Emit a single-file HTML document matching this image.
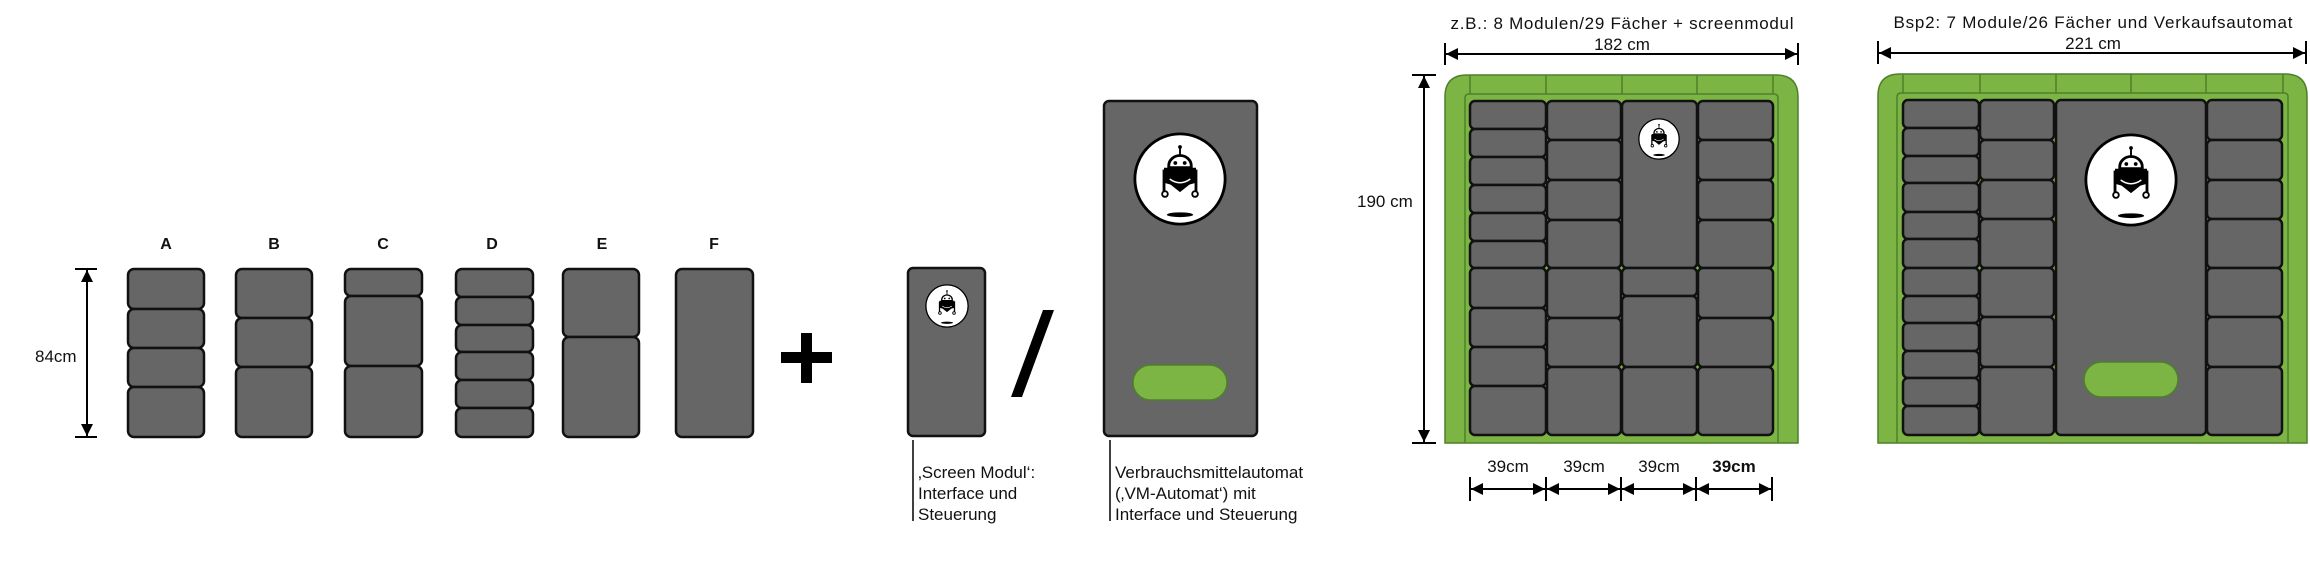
<!DOCTYPE html>
<html><head><meta charset="utf-8"><style>
html,body{margin:0;padding:0;background:#fff;}
svg{display:block;}
text{font-family:"Liberation Sans",sans-serif;fill:#111;}
.c{fill:#666;stroke:#111;stroke-width:2.5;}
.g{fill:#7db544;stroke:#4f7f2c;stroke-width:1.5;}
.gl{stroke:#4f7f2c;stroke-width:1.5;fill:none;}
.ln{stroke:#000;stroke-width:2;fill:none;}
</style></head><body>
<svg width="2310" height="569" viewBox="0 0 2310 569" xmlns="http://www.w3.org/2000/svg">
<defs>
<marker id="ar" viewBox="0 0 10 10" refX="10" refY="5" markerWidth="6" markerHeight="6" orient="auto-start-reverse"><path d="M0,0 L10,5 L0,10 Z" fill="#000"/></marker>
<symbol id="rb" viewBox="-50 -50 100 100">
<circle cx="0" cy="0" r="48" fill="#fff" stroke="#000" stroke-width="3"/>
<line x1="0" y1="-33" x2="0" y2="-25" stroke="#000" stroke-width="2"/>
<circle cx="0" cy="-34" r="2" fill="#000"/>
<path d="M-12,-12 V-14 A12,11 0 0 1 12,-14 V-12 Z" fill="#fff" stroke="#000" stroke-width="3"/>
<circle cx="-5" cy="-17" r="2" fill="#000"/><circle cx="5" cy="-17" r="2" fill="#000"/>
<path d="M-17,-12 H17 V4 L10,6 L0,14 L-10,6 L-17,4 Z" fill="#000"/>
<path d="M-11,0 Q0,8 11,0" stroke="#fff" stroke-width="1.5" fill="none"/>
<line x1="-17" y1="-10" x2="-17" y2="13" stroke="#000" stroke-width="3"/>
<line x1="17" y1="-10" x2="17" y2="13" stroke="#000" stroke-width="3"/>
<circle cx="-16" cy="16" r="3" fill="#fff" stroke="#000" stroke-width="2"/>
<circle cx="16" cy="16" r="3" fill="#fff" stroke="#000" stroke-width="2"/>
<ellipse cx="0" cy="38" rx="14" ry="2.5" fill="#000"/>
</symbol>
</defs>

<!-- left modules -->
<g font-weight="bold" font-size="16" text-anchor="middle">
<text x="166" y="249">A</text><text x="274" y="249">B</text><text x="383" y="249">C</text>
<text x="492" y="249">D</text><text x="602" y="249">E</text><text x="714" y="249">F</text>
</g>
<line x1="75" y1="269" x2="97" y2="269" class="ln"/><line x1="75" y1="437" x2="97" y2="437" class="ln"/>
<line x1="87" y1="270" x2="87" y2="436" class="ln" marker-start="url(#ar)" marker-end="url(#ar)"/>
<text x="35" y="362" font-size="17">84cm</text>
<g>
<rect class="c" x="128" y="269" width="76" height="40" rx="6"/><rect class="c" x="128" y="309" width="76" height="39" rx="6"/><rect class="c" x="128" y="348" width="76" height="39" rx="6"/><rect class="c" x="128" y="387" width="76" height="50" rx="6"/>
<rect class="c" x="236" y="269" width="76" height="49" rx="6"/><rect class="c" x="236" y="318" width="76" height="49" rx="6"/><rect class="c" x="236" y="367" width="76" height="70" rx="6"/>
<rect class="c" x="345" y="269" width="77" height="27" rx="6"/><rect class="c" x="345" y="296" width="77" height="70" rx="6"/><rect class="c" x="345" y="366" width="77" height="71" rx="6"/>
<rect class="c" x="456" y="269" width="77" height="28" rx="6"/><rect class="c" x="456" y="297" width="77" height="28" rx="6"/><rect class="c" x="456" y="325" width="77" height="27" rx="6"/><rect class="c" x="456" y="352" width="77" height="28" rx="6"/><rect class="c" x="456" y="380" width="77" height="28" rx="6"/><rect class="c" x="456" y="408" width="77" height="29" rx="6"/>
<rect class="c" x="563" y="269" width="76" height="68" rx="6"/><rect class="c" x="563" y="337" width="76" height="100" rx="6"/>
<rect class="c" x="676" y="269" width="77" height="168" rx="6"/>
</g>
<rect x="801" y="333" width="11" height="50" fill="#000"/><rect x="781" y="352" width="51" height="11" fill="#000"/>

<!-- screen modul -->
<rect class="c" x="908" y="268" width="77" height="168" rx="5"/>
<use href="#rb" x="925" y="284" width="44" height="44"/>
<polygon points="1043,310 1054,310 1022,397 1011,397" fill="#000"/>
<!-- VM -->
<rect class="c" x="1104" y="101" width="153" height="335" rx="5"/>
<use href="#rb" x="1133" y="132" width="94" height="94"/>
<rect x="1133" y="365" width="94" height="35" rx="17.5" fill="#7db544" stroke="#4f7f2c" stroke-width="1.5"/>
<line x1="913" y1="440" x2="913" y2="521" stroke="#000" stroke-width="1.5"/>
<g font-size="17">
<text x="918" y="478">‚Screen Modul‘:</text><text x="918" y="499">Interface und</text><text x="918" y="520">Steuerung</text>
</g>
<line x1="1110" y1="440" x2="1110" y2="521" stroke="#000" stroke-width="1.5"/>
<g font-size="17">
<text x="1115" y="478">Verbrauchsmittelautomat</text><text x="1115" y="499">(‚VM-Automat‘) mit</text><text x="1115" y="520">Interface und Steuerung</text>
</g>

<!-- Frame 1 -->
<text x="1622" y="29" font-size="17" text-anchor="middle" textLength="343">z.B.: 8 Modulen/29 Fächer + screenmodul</text>
<text x="1622" y="50" font-size="17" text-anchor="middle">182 cm</text>
<line x1="1445" y1="43" x2="1445" y2="65" class="ln"/><line x1="1798" y1="43" x2="1798" y2="65" class="ln"/>
<line x1="1446" y1="54" x2="1797" y2="54" class="ln" marker-start="url(#ar)" marker-end="url(#ar)"/>
<path class="g" d="M1445,443 V97 Q1445,75 1467,75 H1776 Q1798,75 1798,97 V443 Z"/>
<path class="gl" d="M1465,443 V98 Q1465,94 1469,94 H1774 Q1778,94 1778,98 V443"/>
<g class="gl"><line x1="1470" y1="75" x2="1470" y2="94"/><line x1="1546" y1="75" x2="1546" y2="94"/><line x1="1622" y1="75" x2="1622" y2="94"/><line x1="1697" y1="75" x2="1697" y2="94"/><line x1="1773" y1="75" x2="1773" y2="94"/></g>
<g>
<rect class="c" x="1470" y="101" width="76" height="28" rx="5"/><rect class="c" x="1470" y="129" width="76" height="28" rx="5"/><rect class="c" x="1470" y="157" width="76" height="28" rx="5"/><rect class="c" x="1470" y="185" width="76" height="28" rx="5"/><rect class="c" x="1470" y="213" width="76" height="28" rx="5"/><rect class="c" x="1470" y="241" width="76" height="27" rx="5"/><rect class="c" x="1470" y="268" width="76" height="40" rx="5"/><rect class="c" x="1470" y="308" width="76" height="39" rx="5"/><rect class="c" x="1470" y="347" width="76" height="39" rx="5"/><rect class="c" x="1470" y="386" width="76" height="49" rx="5"/>
<rect class="c" x="1547" y="101" width="74" height="39" rx="5"/><rect class="c" x="1547" y="140" width="74" height="40" rx="5"/><rect class="c" x="1547" y="180" width="74" height="40" rx="5"/><rect class="c" x="1547" y="220" width="74" height="48" rx="5"/><rect class="c" x="1547" y="268" width="74" height="50" rx="5"/><rect class="c" x="1547" y="318" width="74" height="49" rx="5"/><rect class="c" x="1547" y="367" width="74" height="68" rx="5"/>
<rect class="c" x="1622" y="101" width="75" height="167" rx="5"/><rect class="c" x="1622" y="268" width="75" height="28" rx="5"/><rect class="c" x="1622" y="296" width="75" height="71" rx="5"/><rect class="c" x="1622" y="367" width="75" height="68" rx="5"/>
<rect class="c" x="1698" y="101" width="75" height="39" rx="5"/><rect class="c" x="1698" y="140" width="75" height="40" rx="5"/><rect class="c" x="1698" y="180" width="75" height="40" rx="5"/><rect class="c" x="1698" y="220" width="75" height="48" rx="5"/><rect class="c" x="1698" y="268" width="75" height="50" rx="5"/><rect class="c" x="1698" y="318" width="75" height="49" rx="5"/><rect class="c" x="1698" y="367" width="75" height="68" rx="5"/>
</g>
<use href="#rb" x="1638" y="118" width="42" height="42"/>
<line x1="1412" y1="75" x2="1436" y2="75" class="ln"/><line x1="1412" y1="443" x2="1436" y2="443" class="ln"/>
<line x1="1424" y1="76" x2="1424" y2="442" class="ln" marker-start="url(#ar)" marker-end="url(#ar)"/>
<text x="1357" y="207" font-size="17">190 cm</text>
<g font-size="17" text-anchor="middle">
<text x="1508" y="472">39cm</text><text x="1584" y="472">39cm</text><text x="1659" y="472">39cm</text><text x="1734" y="472" font-weight="bold">39cm</text>
</g>
<g class="ln"><line x1="1470" y1="477" x2="1470" y2="501"/><line x1="1546" y1="477" x2="1546" y2="501"/><line x1="1621" y1="477" x2="1621" y2="501"/><line x1="1696" y1="477" x2="1696" y2="501"/><line x1="1772" y1="477" x2="1772" y2="501"/></g>
<g class="ln">
<line x1="1471" y1="489" x2="1545" y2="489" marker-start="url(#ar)" marker-end="url(#ar)"/>
<line x1="1547" y1="489" x2="1620" y2="489" marker-start="url(#ar)" marker-end="url(#ar)"/>
<line x1="1622" y1="489" x2="1695" y2="489" marker-start="url(#ar)" marker-end="url(#ar)"/>
<line x1="1697" y1="489" x2="1771" y2="489" marker-start="url(#ar)" marker-end="url(#ar)"/>
</g>

<!-- Frame 2 -->
<text x="2093" y="28" font-size="17" text-anchor="middle" textLength="399">Bsp2: 7 Module/26 Fächer und Verkaufsautomat</text>
<text x="2093" y="49" font-size="17" text-anchor="middle">221 cm</text>
<line x1="1878" y1="41" x2="1878" y2="64" class="ln"/><line x1="2306" y1="41" x2="2306" y2="64" class="ln"/>
<line x1="1879" y1="53" x2="2305" y2="53" class="ln" marker-start="url(#ar)" marker-end="url(#ar)"/>
<path class="g" d="M1878,443 V96 Q1878,74 1900,74 H2285 Q2307,74 2307,96 V443 Z"/>
<path class="gl" d="M1897,443 V97 Q1897,93 1901,93 H2284 Q2288,93 2288,97 V443"/>
<g class="gl"><line x1="1903" y1="74" x2="1903" y2="93"/><line x1="1980" y1="74" x2="1980" y2="93"/><line x1="2056" y1="74" x2="2056" y2="93"/><line x1="2131" y1="74" x2="2131" y2="93"/><line x1="2206" y1="74" x2="2206" y2="93"/><line x1="2283" y1="74" x2="2283" y2="93"/></g>
<g>
<rect class="c" x="1903" y="100" width="76" height="28" rx="5"/><rect class="c" x="1903" y="128" width="76" height="28" rx="5"/><rect class="c" x="1903" y="156" width="76" height="27" rx="5"/><rect class="c" x="1903" y="183" width="76" height="29" rx="5"/><rect class="c" x="1903" y="212" width="76" height="27" rx="5"/><rect class="c" x="1903" y="239" width="76" height="29" rx="5"/><rect class="c" x="1903" y="268" width="76" height="28" rx="5"/><rect class="c" x="1903" y="296" width="76" height="27" rx="5"/><rect class="c" x="1903" y="323" width="76" height="28" rx="5"/><rect class="c" x="1903" y="351" width="76" height="27" rx="5"/><rect class="c" x="1903" y="378" width="76" height="28" rx="5"/><rect class="c" x="1903" y="406" width="76" height="29" rx="5"/>
<rect class="c" x="1980" y="100" width="74" height="40" rx="5"/><rect class="c" x="1980" y="140" width="74" height="40" rx="5"/><rect class="c" x="1980" y="180" width="74" height="39" rx="5"/><rect class="c" x="1980" y="219" width="74" height="49" rx="5"/><rect class="c" x="1980" y="268" width="74" height="49" rx="5"/><rect class="c" x="1980" y="317" width="74" height="50" rx="5"/><rect class="c" x="1980" y="367" width="74" height="68" rx="5"/>
<rect class="c" x="2056" y="100" width="150" height="335" rx="5"/>
<rect class="c" x="2207" y="100" width="75" height="40" rx="5"/><rect class="c" x="2207" y="140" width="75" height="40" rx="5"/><rect class="c" x="2207" y="180" width="75" height="39" rx="5"/><rect class="c" x="2207" y="219" width="75" height="49" rx="5"/><rect class="c" x="2207" y="268" width="75" height="49" rx="5"/><rect class="c" x="2207" y="317" width="75" height="50" rx="5"/><rect class="c" x="2207" y="367" width="75" height="68" rx="5"/>
</g>
<use href="#rb" x="2084" y="133" width="94" height="94"/>
<rect x="2084" y="362" width="94" height="35" rx="17.5" fill="#7db544" stroke="#4f7f2c" stroke-width="1.5"/>
</svg>
</body></html>
